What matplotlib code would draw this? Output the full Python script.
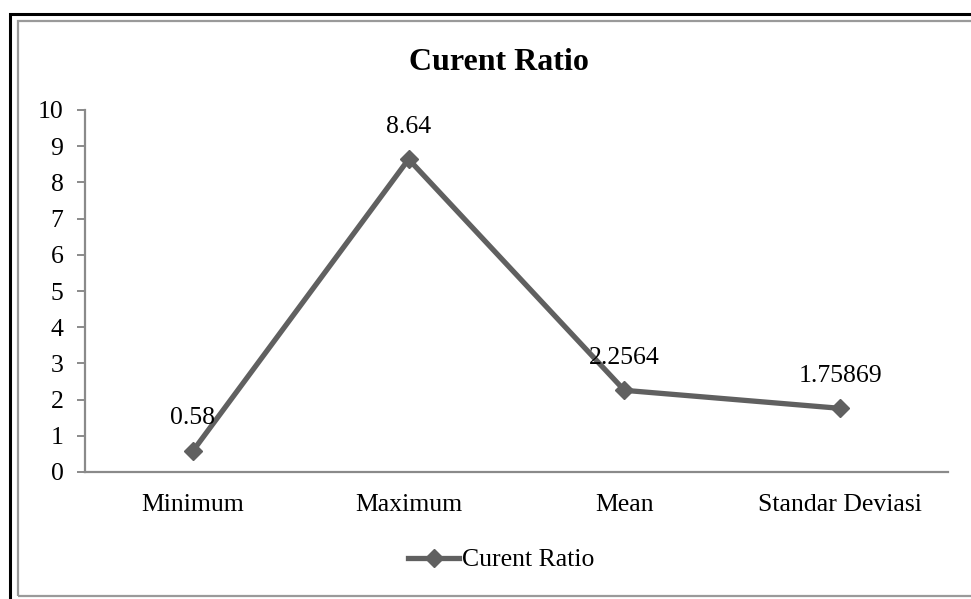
import matplotlib.pyplot as plt
from matplotlib.patches import Rectangle

plt.rcParams['font.family'] = ['Liberation Serif', 'DejaVu Serif']

categories = ['Minimum', 'Maximum', 'Mean', 'Standar Deviasi']
values = [0.58, 8.64, 2.2564, 1.75869]
value_labels = ['0.58', '8.64', '2.2564', '1.75869']
series_name = 'Curent Ratio'

W, H = 971, 599
fig = plt.figure(figsize=(W / 100, H / 100), dpi=100)

# outer black frame and inner gray chart border (run off the right edge)
fig.patches.append(Rectangle((10 / W, -0.1), 1.2, 1 - 14 / H + 0.1,
                             transform=fig.transFigure, fill=False,
                             edgecolor='black', linewidth=2.2))
fig.patches.append(Rectangle((18 / W, 1 - 596 / H), 1.2, (596 - 21) / H,
                             transform=fig.transFigure, fill=False,
                             edgecolor='#9a9a9a', linewidth=1.6))

ax = fig.add_axes([85 / W, 1 - 472 / H, (948 - 85) / W, (472 - 110) / H])
x = list(range(len(categories)))
line_color = '#606060'
ax.plot(x, values, color=line_color, linewidth=3.8, marker='D',
        markersize=9, markerfacecolor=line_color, markeredgecolor=line_color,
        label=series_name)

for xi, v, lab in zip(x, values, value_labels):
    ax.annotate(lab, (xi, v), xytext=(0, 23.5), textcoords='offset points',
                ha='center', va='center', fontsize=18.5)

ax.set_xlim(-0.5, len(categories) - 0.5)
ax.set_ylim(0, 10)
ax.set_yticks(range(0, 11))
ax.set_xticks(x)
ax.set_xticklabels(categories)

for side in ('top', 'right'):
    ax.spines[side].set_visible(False)
for side in ('left', 'bottom'):
    ax.spines[side].set_color('#8a8a8a')
    ax.spines[side].set_linewidth(1.6)

ax.tick_params(axis='y', direction='out', length=5.5, width=1.4,
               color='#8a8a8a', labelsize=18.5, pad=10)
ax.tick_params(axis='x', length=0, labelsize=18.5, pad=16)

fig.text(499 / W, 1 - 63 / H, 'Curent Ratio', ha='center', va='center',
         fontsize=23, fontweight='bold')

fig.legend(loc='center', bbox_to_anchor=(501 / W, 1 - 560 / H), frameon=False,
           fontsize=18.5, handlelength=2.0, handletextpad=0.1,
           borderaxespad=0)

fig.savefig('out.png', dpi=100)
